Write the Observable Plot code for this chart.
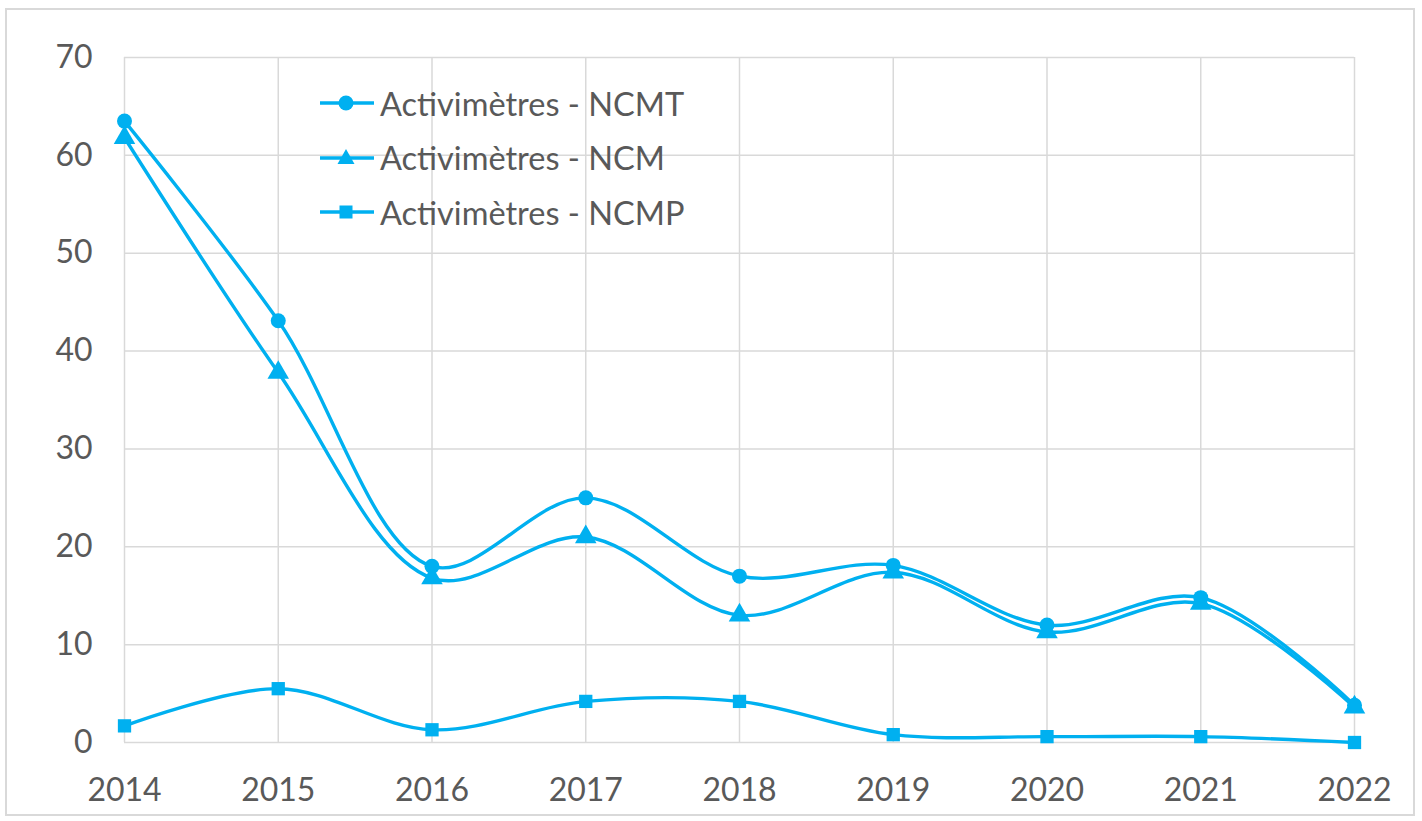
<!DOCTYPE html>
<html>
<head>
<meta charset="utf-8">
<script src="https://cdn.jsdelivr.net/npm/d3@7"></script>
<script src="https://cdn.jsdelivr.net/npm/@observablehq/plot@0.6"></script>
<style>
  body { margin: 0; background: #fff; }
  #wrap { position: relative; width: 1422px; height: 821px; overflow: hidden; }
  #frame { position: absolute; left: 5px; top: 8px; width: 1410px; height: 808px; border: 2px solid #d9d9d9; box-sizing: border-box; pointer-events: none; }
  #legend { position: absolute; left: 320px; top: 76px; font-family: Lato, "Open Sans", sans-serif; font-size: 32.5px; color: #595959; }
  .row { display: flex; align-items: center; height: 54.5px; }
  .row svg { margin-right: 6px; }
</style>
</head>
<body>
<div id="wrap">
  <div id="chart"></div>
  <div id="frame"></div>
  <div id="legend"></div>
</div>
<script>
const years = [2014, 2015, 2016, 2017, 2018, 2019, 2020, 2021, 2022];
const seriesNames = ["Activimètres - NCMT", "Activimètres - NCM", "Activimètres - NCMP"];
const ncmt = [63.5, 43.1, 18.0, 25.0, 17.0, 18.1, 12.0, 14.8, 3.8];
const ncm  = [61.8, 37.8, 16.8, 21.0, 13.0, 17.4, 11.3, 14.2, 3.6];
const ncmp = [1.7, 5.5, 1.3, 4.2, 4.2, 0.8, 0.6, 0.6, 0.0];
const yTicks = [0, 10, 20, 30, 40, 50, 60, 70];
const symbols = ["circle", "triangle", "square"];
const color = "#00B0F0";

const allValues = [ncmt, ncm, ncmp];
const rows = [];
allValues.forEach((vals, i) => vals.forEach((v, j) => rows.push({series: seriesNames[i], year: years[j], value: v})));

const marks = [
  Plot.gridX(years, {stroke: "#d9d9d9", strokeOpacity: 1, strokeWidth: 1.5}),
  Plot.gridY(yTicks, {stroke: "#d9d9d9", strokeOpacity: 1, strokeWidth: 1.5}),
  Plot.axisX({ticks: years, tickFormat: d => String(d), tickSize: 0, tickPadding: 36, fontSize: 32, fill: "#595959"}),
  Plot.axisY({ticks: yTicks, tickSize: 0, tickPadding: 32, fontSize: 32, fill: "#595959"}),
  Plot.line(rows, {x: "year", y: "value", z: "series", stroke: color, strokeWidth: 3.4, curve: "catmull-rom"})
];
seriesNames.forEach((name, i) => {
  marks.push(Plot.dot(rows.filter(d => d.series === name), {x: "year", y: "value", symbol: symbols[i], fill: color, r: i === 1 ? 8 : 7.5}));
});

const chart = Plot.plot({
  width: 1422,
  height: 821,
  marginLeft: 124,
  marginRight: 68,
  marginTop: 57,
  marginBottom: 79,
  x: {domain: [2014, 2022], label: null},
  y: {domain: [0, 70], label: null},
  style: {fontFamily: "Lato, 'Open Sans', sans-serif", background: "#fff", overflow: "visible"},
  marks
});
document.getElementById("chart").appendChild(chart);

// legend
const legend = document.getElementById("legend");
seriesNames.forEach((name, i) => {
  const row = document.createElement("div");
  row.className = "row";
  const shapes = [
    '<circle cx="26" cy="15" r="7.5" fill="' + color + '"/>',
    '<path d="M26 6 L34.5 21 L17.5 21 Z" fill="' + color + '"/>',
    '<rect x="19.5" y="8.5" width="13" height="13" fill="' + color + '"/>'
  ];
  row.innerHTML = '<svg width="54" height="30"><line x1="0" x2="54" y1="15" y2="15" stroke="' + color + '" stroke-width="3.4"/>' + shapes[i] + '</svg><span>' + name + '</span>';
  legend.appendChild(row);
});
</script>
</body>
</html>
